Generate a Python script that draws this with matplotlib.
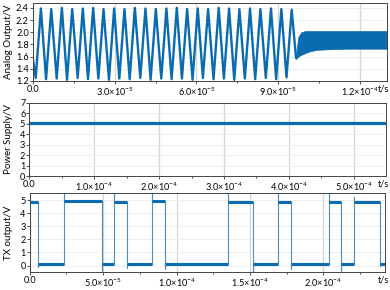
import numpy as np
import matplotlib.pyplot as plt

plt.rcParams['font.family'] = ['Lato', 'DejaVu Sans']
plt.rcParams['mathtext.fontset'] = 'custom'
plt.rcParams['mathtext.rm'] = 'Lato'
plt.rcParams['mathtext.default'] = 'regular'
plt.rcParams['font.size'] = 7

blue = "#0b6bb0"

# ---- panel 1: analog output (times in microseconds) ----
peak_t = [2.9, 6.7, 10.6, 14.4, 18.3, 22.1, 25.9, 29.8, 33.6, 37.4, 41.3, 45.1, 49.0,
          52.8, 56.6, 60.5, 64.3, 68.2, 72.0, 75.8, 79.7, 83.5, 87.4, 91.2, 95.0]
peak_v = [2.39, 2.38, 2.40, 2.38, 2.39, 2.40, 2.38, 2.39, 2.38, 2.40, 2.39, 2.38, 2.39,
          2.40, 2.38, 2.39, 2.38, 2.40, 2.39, 2.38, 2.39, 2.38, 2.39, 2.38, 2.37]
trough_t = [1.0, 4.8, 8.7, 12.5, 16.4, 20.2, 24.0, 27.9, 31.7, 35.5, 39.4, 43.2, 47.1,
            50.9, 54.7, 58.6, 62.4, 66.3, 70.1, 73.9, 77.8, 81.6, 85.5, 89.3, 93.1]
trough_v = [1.25, 1.23, 1.24, 1.22, 1.25, 1.23, 1.24, 1.22, 1.24, 1.23, 1.25, 1.22, 1.24,
            1.23, 1.24, 1.22, 1.25, 1.23, 1.24, 1.22, 1.24, 1.23, 1.25, 1.23, 1.26]
start_v = 1.55
drop_t, drop_v = 96.6, 1.58
band_t = [96.6, 97.4, 98.5, 100.0, 102.0, 104.0, 108.0, 115.0, 130.0]
band_hi = [1.62, 1.92, 2.00, 2.02, 2.02, 2.02, 2.02, 2.02, 2.02]
band_lo = [1.56, 1.60, 1.63, 1.66, 1.69, 1.71, 1.72, 1.73, 1.73]

ticks1 = [0, 3e-5, 6e-5, 9e-5, 1.2e-4]
labels1 = ['0.0', '3.0×10$^{-5}$', '6.0×10$^{-5}$', '9.0×10$^{-5}$', '1.2×10$^{-4}$']

# ---- panel 2: power supply ----
supply_t = [0, 5.5e-4]
supply_v = [5.05, 5.05]
ticks2 = [0, 1e-4, 2e-4, 3e-4, 4e-4, 5e-4]
labels2 = ['0.0', '1.0×10$^{-4}$', '2.0×10$^{-4}$', '3.0×10$^{-4}$', '4.0×10$^{-4}$', '5.0×10$^{-4}$']

# ---- panel 3: TX output (microseconds) ----
tx_edges = [0, 5.9, 23.5, 49.0, 57.6, 66.2, 83.4, 92.0, 135.1, 152.0, 169.0,
            177.7, 203.8, 212.2, 220.8, 238.3, 242.0]
tx_levels = [4.88, 0.12, 4.97, 0.12, 4.88, 0.10, 4.92, 0.12, 4.90, 0.10, 4.85,
             0.12, 4.88, 0.15, 4.90, 0.12]
tx_spike = [-0.15, 5.5, -0.45, 5.5, -0.2, 5.5, -0.3, 5.5, -0.5, 5.5, -0.3, 5.5, -0.4, 5.3, -0.05]
ticks3 = [0, 5e-5, 1e-4, 1.5e-4, 2e-4]
labels3 = ['0.0', '5.0×10$^{-5}$', '1.0×10$^{-4}$', '1.5×10$^{-4}$', '2.0×10$^{-4}$']

fig = plt.figure(figsize=(3.9, 2.9), dpi=100)
ax1 = fig.add_axes([0.0846, 0.7207, 0.9077, 0.269])
ax2 = fig.add_axes([0.0756, 0.3931, 0.914, 0.2528])
ax3 = fig.add_axes([0.0762, 0.062, 0.911, 0.2715])

# panel 1
wt = [0.0]
wv = [start_v]
for i in range(len(peak_t)):
    wt += [trough_t[i], peak_t[i]]
    wv += [trough_v[i], peak_v[i]]
wt.append(drop_t)
wv.append(drop_v)
ax1.plot(np.array(wt) * 1e-6, wv, color=blue, lw=1.7)
ax1.fill_between(np.array(band_t) * 1e-6, band_lo, band_hi, color=blue, lw=0.5, edgecolor=blue)
ax1.set_ylim(1.2, 2.48)
ax1.set_yticks(np.arange(1.2, 2.41, 0.2))
ax1.set_yticklabels(['1.2', '1.4', '1.6', '1.8', '2.0', '2.2', '2.4'])
ax1.set_ylabel('Analog Output/V')
ax1.yaxis.set_label_coords(-0.056, 0.5)

# panel 2
ax2.plot(supply_t, supply_v, color=blue, lw=2.3)
ax2.set_ylim(0, 7)
ax2.set_yticks(range(8))
ax2.set_ylabel('Power Supply/V')
ax2.yaxis.set_label_coords(-0.047, 0.5)

# panel 3: thin edges, thick (noisy) levels
et = np.array(tx_edges) * 1e-6
for i in range(1, len(tx_edges) - 1):
    ax3.plot([et[i], et[i], et[i]], [tx_levels[i - 1], tx_spike[i - 1], tx_levels[i]],
             color=blue, lw=0.8, alpha=0.75)
for i in range(len(tx_levels)):
    ax3.plot([et[i], et[i + 1]], [tx_levels[i], tx_levels[i]], color=blue, lw=2.2,
             solid_capstyle='butt')
ax3.set_ylim(-0.5, 5.55)
ax3.set_yticks(range(6))
ax3.set_ylabel('TX output/V')
ax3.yaxis.set_label_coords(-0.047, 0.5)

for ax, tk, lb, xm, ms in [(ax1, ticks1, labels1, 1.3e-4, 1.5e-5),
                           (ax2, ticks2, labels2, 5.5e-4, 0.5e-4),
                           (ax3, ticks3, labels3, 2.42e-4, 2.5e-5)]:
    ax.set_xlim(0, xm)
    ax.set_xticks(tk)
    ax.set_xticklabels(lb)
    ax.set_xticks(np.arange(0, xm, ms), minor=True)
    ax.grid(True, axis='x', which='major', color='#d4d4d4', lw=0.9)
    ax.grid(True, axis='y', which='major', color='#ececec', lw=0.6)
    ax.set_axisbelow(True)
    ax.tick_params(which='both', length=2, width=0.6, pad=1, colors='#333333',
                   labelcolor='black', labelsize=6.6)
    ax.tick_params(which='minor', length=1.5)
    for s in ax.spines.values():
        s.set_color('#444444')
        s.set_linewidth(0.7)
    pos = ax.get_position()
    fig.text(0.997, pos.y0 - 0.012, 't/s', ha='right', va='top', fontsize=6.6)

fig.savefig('out.png', dpi=100)
